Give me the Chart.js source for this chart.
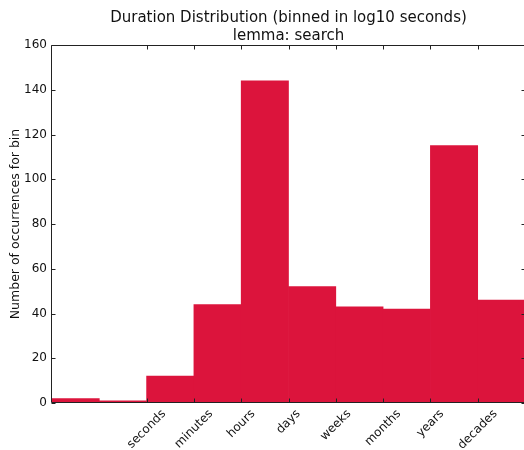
<!DOCTYPE html>
<html>
<head>
<meta charset="utf-8">
<script src="https://cdn.jsdelivr.net/npm/chart.js@4/dist/chart.umd.min.js"></script>
<style>
  html, body { margin: 0; padding: 0; overflow: hidden; background: #fff; }
  #wrap { width: 526px; height: 450px; }
</style>
</head>
<body>
<div id="wrap"><canvas id="c" width="526" height="450"></canvas></div>
<script>
// Histogram bins (bin index on the x axis) and their counts
const binEdges = [0, 1, 2, 3, 4, 5, 6, 7, 8, 9, 10];
const counts = [2, 1, 12, 44, 144, 52, 43, 42, 115, 46];
// Named time units sit on the bin edges
const tickEdges = [2, 3, 4, 5, 6, 7, 8, 9];
const tickLabels = ['seconds', 'minutes', 'hours', 'days', 'weeks', 'months', 'years', 'decades'];
const yTicks = [0, 20, 40, 60, 80, 100, 120, 140, 160];

const FONT = '"DejaVu Sans", "Liberation Sans", sans-serif';
const TICK_SIZE = 12;

// each bar centred between its two edges
const points = counts.map((c, i) => ({ x: (binEdges[i] + binEdges[i + 1]) / 2, y: c }));

// Box frame, inward tick marks and rotated unit labels
const frame = {
  id: 'frame',
  afterDatasetsDraw(chart) {
    const { ctx, chartArea: a, scales: { x, y } } = chart;
    const L = Math.round(a.left) - 0.5;
    const R = Math.round(a.right) + 0.5;
    const T = Math.round(a.top) + 0.5;
    const B = Math.round(a.bottom) - 0.5;
    const tl = 4;
    ctx.save();
    ctx.strokeStyle = '#222';
    ctx.lineWidth = 1;
    ctx.beginPath();
    ctx.rect(L, T, R - L, B - T);
    y.ticks.forEach(t => {
      const py = Math.round(y.getPixelForValue(t.value)) + 0.5;
      ctx.moveTo(L, py); ctx.lineTo(L + tl, py);
      ctx.moveTo(R, py); ctx.lineTo(R - tl, py);
    });
    x.ticks.forEach(t => {
      const px = Math.round(x.getPixelForValue(t.value)) + 0.5;
      ctx.moveTo(px, B); ctx.lineTo(px, B - tl);
      ctx.moveTo(px, T); ctx.lineTo(px, T + tl);
    });
    ctx.stroke();

    ctx.font = TICK_SIZE + 'px ' + FONT;
    ctx.fillStyle = '#111';
    ctx.textAlign = 'center';
    ctx.textBaseline = 'middle';
    const h = TICK_SIZE * 1.15;
    x.ticks.forEach(t => {
      const label = tickLabels[tickEdges.indexOf(t.value)];
      if (!label) return;
      const w = ctx.measureText(label).width;
      const cx = x.getPixelForValue(t.value);
      const cy = a.bottom + 4 + (w + h) * Math.SQRT1_2 / 2;
      ctx.save();
      ctx.translate(cx, cy);
      ctx.rotate(-Math.PI / 4);
      ctx.fillText(label, 0, 0);
      ctx.restore();
    });
    ctx.restore();
  }
};

new Chart(document.getElementById('c'), {
  type: 'bar',
  data: {
    datasets: [{
      data: points,
      backgroundColor: '#DC143C',
      borderWidth: 0,
      barPercentage: 1,
      categoryPercentage: 1
    }]
  },
  options: {
    responsive: false,
    animation: false,
    layout: { padding: { top: 0, right: 1, bottom: 0, left: 0 } },
    plugins: {
      legend: { display: false },
      tooltip: { enabled: false },
      title: {
        display: true,
        fullSize: false,
        text: ['Duration Distribution (binned in log10 seconds)', 'lemma: search'],
        color: '#111',
        font: { family: FONT, size: 15, weight: 'normal', lineHeight: '18px' },
        padding: { top: 9, bottom: 0 }
      }
    },
    scales: {
      x: {
        type: 'linear',
        min: binEdges[0],
        max: binEdges[binEdges.length - 1],
        offset: false,
        grid: { display: false, drawTicks: false },
        border: { display: false },
        ticks: { display: false },
        afterBuildTicks: s => { s.ticks = tickEdges.map(v => ({ value: v })); },
        afterFit: s => { s.height = 47; }
      },
      y: {
        min: 0,
        max: 160,
        grid: { display: false, drawTicks: false },
        border: { display: false },
        ticks: {
          stepSize: 20,
          padding: 5,
          color: '#111',
          font: { family: FONT, size: TICK_SIZE }
        },
        afterBuildTicks: s => { s.ticks = yTicks.map(v => ({ value: v })); },
        title: {
          display: true,
          text: 'Number of occurrences for bin',
          color: '#111',
          font: { family: FONT, size: 12.5 },
          padding: { top: 8, bottom: 0 }
        },
        afterFit: s => { s.width = 52; }
      }
    }
  },
  plugins: [frame]
});
</script>
</body>
</html>
